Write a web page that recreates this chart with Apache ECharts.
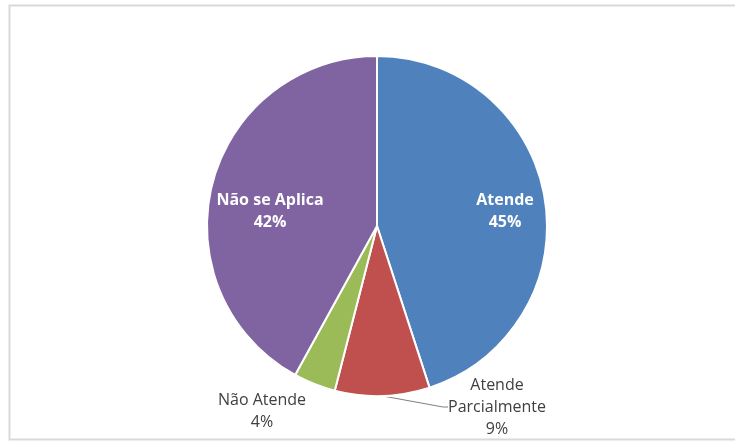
<!DOCTYPE html>
<html>
<head>
<meta charset="utf-8">
<script src="https://cdn.jsdelivr.net/npm/echarts@6/dist/echarts.min.js"></script>
<style>
  html, body { margin: 0; padding: 0; background: #fff; }
  #chart { width: 735px; height: 442px; }
</style>
</head>
<body>
<div id="chart"></div>
<script>
// Status categories and their shares (%)
const categories = ['Atende', 'Atende Parcialmente', 'Não Atende', 'Não se Aplica'];
const shares = [45, 9, 4, 42];
const sliceColors = ['#4F81BD', '#C0504D', '#9BBB59', '#8064A2'];

// Pie geometry
const pieCenter = [377, 226];
const pieRadius = 170;

// Label placement relative to the pie centre, per category
const labelPlacement = [
  { dx: 128, dy: -15, inside: true },
  { dx: 120, dy: 181, inside: false, line: true },
  { dx: -115, dy: 185, inside: false },
  { dx: -107, dy: -15, inside: true }
];

const chart = echarts.init(document.getElementById('chart'));

const data = categories.map((name, i) => {
  const p = labelPlacement[i];
  return {
    name: name,
    value: shares[i],
    itemStyle: { color: sliceColors[i] },
    label: p.inside
      ? { color: '#ffffff', fontWeight: 'bold' }
      : { color: '#404040', fontWeight: 'normal' },
    labelLine: { show: !!p.line }
  };
});

chart.setOption({
  animation: false,
  backgroundColor: '#ffffff',
  graphic: [{
    type: 'rect',
    shape: { x: 9.5, y: 5.5, width: 740, height: 434 },
    style: { fill: 'none', stroke: '#d9d9d9', lineWidth: 2 },
    silent: true
  }],
  series: [{
    type: 'pie',
    center: pieCenter,
    radius: pieRadius,
    startAngle: 90,
    clockwise: true,
    avoidLabelOverlap: false,
    data: data,
    itemStyle: { borderColor: '#ffffff', borderWidth: 2 },
    label: {
      show: true,
      position: 'outside',
      fontFamily: '"Open Sans", sans-serif',
      fontSize: 16,
      lineHeight: 22,
      formatter: (p) => {
        const name = p.dataIndex === 1 ? 'Atende\nParcialmente' : p.name;
        return name + '\n' + Math.round(p.percent) + '%';
      }
    },
    labelLine: {
      lineStyle: { color: '#7f7f7f', width: 1 },
      length: 10,
      length2: 5
    },
    labelLayout: (params) => {
      const p = labelPlacement[params.dataIndex];
      return {
        x: pieCenter[0] + p.dx,
        y: pieCenter[1] + p.dy,
        align: 'center',
        verticalAlign: 'middle'
      };
    }
  }]
});
</script>
</body>
</html>
